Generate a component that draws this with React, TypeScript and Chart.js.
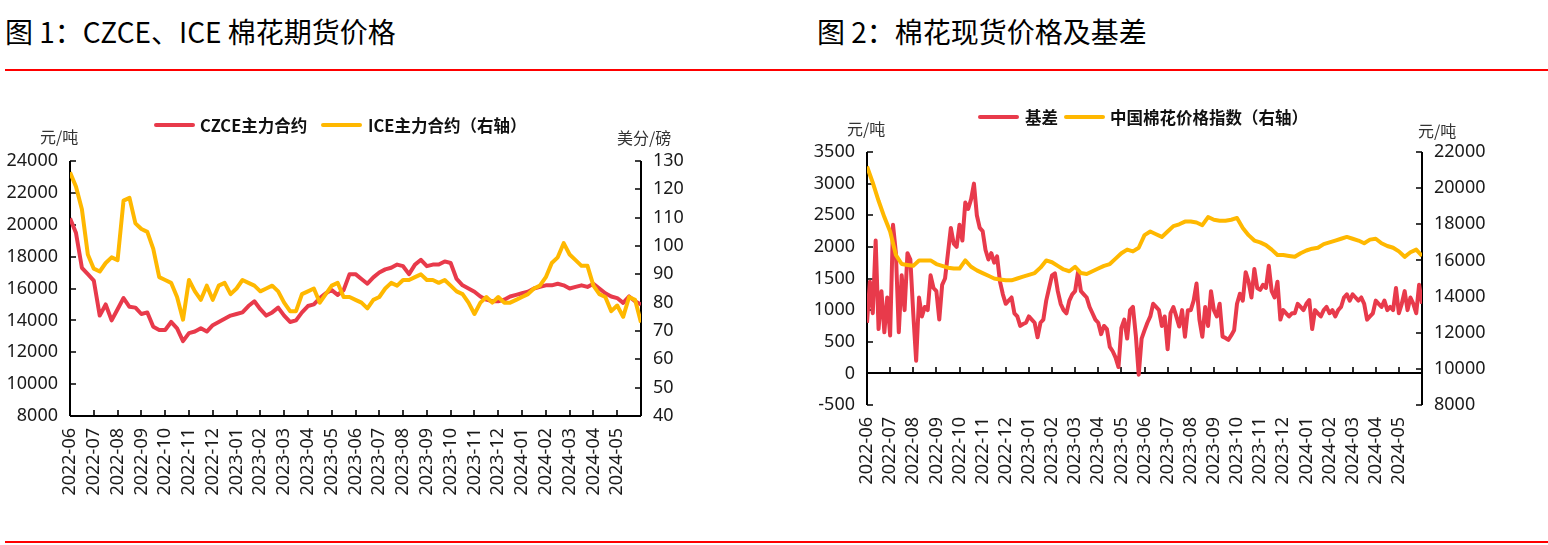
import React, { useEffect, useRef } from 'react';
import { Chart, registerables } from 'chart.js';

Chart.register(...registerables);

// ---------- data ----------
const MONTHS = [
  '2022-06', '2022-07', '2022-08', '2022-09', '2022-10', '2022-11', '2022-12',
  '2023-01', '2023-02', '2023-03', '2023-04', '2023-05', '2023-06', '2023-07',
  '2023-08', '2023-09', '2023-10', '2023-11', '2023-12', '2024-01', '2024-02',
  '2024-03', '2024-04', '2024-05',
];

const PER_MONTH = 4; // samples per month for CZCE / ICE / cotton index
const BASIS_PER_MONTH = 8; // samples per month for basis

// Fig.1 CZCE main contract (元/吨)
const czce = [
  20400, 19500, 17300, 16900, 16500, 14300, 15000, 14000, 14700, 15400, 14850, 14800,
  14400, 14500, 13600, 13400, 13400, 13900, 13500, 12700, 13200, 13300, 13500, 13300,
  13700, 13900, 14100, 14300, 14400, 14500, 14900, 15200, 14700, 14300, 14500, 14800,
  14300, 13900, 14000, 14500, 14900, 15000, 15400, 15700, 15900, 15600, 15900, 16900,
  16900, 16600, 16300, 16700, 17000, 17200, 17300, 17500, 17400, 16900, 17500, 17800,
  17400, 17500, 17500, 17700, 17600, 16600, 16200, 16000, 15800, 15500, 15300, 15200,
  15200, 15300, 15500, 15600, 15700, 15800, 16000, 16100, 16200, 16200, 16300, 16200,
  16000, 16100, 16200, 16100, 16300, 16000, 15700, 15500, 15400, 15100, 15500, 15200,
  15000,
];

// Fig.1 ICE main contract (美分/磅, right axis)
const ice = [
  126, 121, 113, 97, 92, 91, 94, 96, 95, 116, 117, 108,
  106, 105, 99, 89, 88, 87, 82, 74, 88, 84, 81, 86,
  81, 86, 87, 83, 85, 88, 87, 86, 84, 85, 86, 84,
  80, 77, 77, 83, 84, 85, 80, 83, 86, 87, 82, 82,
  81, 80, 78, 81, 82, 85, 87, 86, 88, 88, 89, 90,
  88, 88, 87, 88, 86, 84, 83, 80, 76, 80, 82, 80,
  82, 80, 80, 81, 82, 83, 85, 86, 89, 94, 96, 101,
  97, 95, 93, 93, 86, 83, 82, 77, 79, 75, 82, 81,
  73,
];

// Fig.2 basis (元/吨, left axis)
const basis = [
  800, 1450, 950, 2100, 700, 1300, 650, 1200,
  600, 2350, 1900, 650, 1550, 1000, 1900, 1800,
  950, 200, 1200, 900, 1050, 1000, 1550, 1350,
  1300, 850, 1400, 1500, 1900, 2300, 2050, 2000,
  2350, 2100, 2700, 2600, 2750, 3000, 2500, 2300,
  2250, 1950, 1800, 1900, 1750, 1850, 1450, 1250,
  1100, 1150, 1200, 950, 900, 750, 780, 800,
  900, 850, 800, 570, 800, 850, 1150, 1350,
  1550, 1580, 1300, 1100, 1000, 950, 1150, 1250,
  1300, 1600, 1300, 1250, 1200, 1050, 950, 850,
  800, 620, 750, 700, 420, 350, 250, 100,
  720, 850, 550, 1000, 1050, 600, -20, 550,
  680, 800, 900, 1100, 1050, 1000, 750, 900,
  380, 950, 1050, 900, 740, 1000, 580, 1000,
  1000, 1150, 1420, 850, 580, 1050, 750, 1300,
  1000, 900, 1100, 580, 560, 530, 600, 680,
  1100, 1260, 1150, 1600, 1450, 1200, 1650, 1350,
  1320, 1400, 1350, 1700, 1300, 1200, 1450, 850,
  1000, 950, 900, 950, 950, 1100, 1050, 1000,
  1100, 1160, 700, 1000, 950, 900, 1000, 1050,
  950, 1000, 900, 1000, 1050, 1200, 1250, 1150,
  1250, 1200, 1150, 1200, 1100, 850, 900, 950,
  1150, 1100, 1050, 1150, 1000, 1050, 1000, 1350,
  950, 1100, 1300, 1000, 1200, 1100, 950, 1400,
  1100,
];

// Fig.2 China cotton price index (元/吨, right axis)
const cottonIndex = [
  21200, 20300, 19300, 18400, 17600, 16300, 15800, 15750, 15700, 16000, 16000, 16000,
  15800, 15700, 15600, 15550, 15550, 16000, 15650, 15450, 15300, 15150, 15000, 14950,
  14900, 14900, 15000, 15100, 15200, 15300, 15600, 16000, 15900, 15700, 15500, 15400,
  15650, 15300, 15250, 15400, 15550, 15700, 15800, 16100, 16400, 16600, 16500, 16700,
  17400, 17600, 17450, 17300, 17600, 17900, 18000, 18150, 18150, 18100, 17950, 18400,
  18250, 18200, 18200, 18250, 18350, 17800, 17400, 17100, 17000, 16850, 16600, 16300,
  16300, 16250, 16200, 16400, 16550, 16650, 16700, 16900, 17000, 17100, 17200, 17300,
  17200, 17100, 16950, 17150, 17200, 16950, 16800, 16700, 16500, 16200, 16450, 16600,
  16250,
];

// axis ranges
const FIG1_LEFT = { min: 8000, max: 24000, step: 2000 };
const FIG1_RIGHT = { min: 40, max: 130, step: 10 };
const FIG2_LEFT = { min: -500, max: 3500, step: 500 };
const FIG2_RIGHT = { min: 8000, max: 22000, step: 2000 };

// ---------- styles ----------
const RED = '#E83A4B';
const YELLOW = '#FFB800';
const FONT = '"Noto Sans", "Noto Sans CJK SC", sans-serif';
const CJK = '"Noto Sans CJK SC", "Noto Sans", sans-serif';
const TICK_COLOR = '#1a1a1a';

const innerAxes = {
  id: 'innerAxes',
  beforeDatasetsDraw(chart: any, _args: any, opts: any) {
    const { ctx, chartArea: a, scales } = chart;
    const x = scales.x, y = scales.y, y1 = scales.y1;
    const len = 6;
    const axisY = opts.xAxisAt == null ? a.bottom : Math.round(y.getPixelForValue(opts.xAxisAt));
    ctx.save();
    ctx.strokeStyle = '#000';
    ctx.lineWidth = 2;
    ctx.beginPath();
    ctx.moveTo(a.left, a.top); ctx.lineTo(a.left, a.bottom);
    ctx.moveTo(a.right, a.top); ctx.lineTo(a.right, a.bottom);
    ctx.moveTo(a.left, axisY); ctx.lineTo(a.right, axisY);
    ctx.stroke();
    ctx.lineWidth = 1.6;
    ctx.beginPath();
    y.ticks.forEach((t: any) => {
      const py = Math.round(y.getPixelForValue(t.value));
      ctx.moveTo(a.left, py); ctx.lineTo(a.left + len, py);
    });
    y1.ticks.forEach((t: any) => {
      const py = Math.round(y1.getPixelForValue(t.value));
      ctx.moveTo(a.right, py); ctx.lineTo(a.right - len, py);
    });
    x.ticks.forEach((t: any) => {
      if (t.value <= 0 || t.value >= MONTHS.length) return;
      const px = Math.round(x.getPixelForValue(t.value));
      ctx.moveTo(px, axisY); ctx.lineTo(px, axisY - len);
    });
    ctx.stroke();
    ctx.restore();
  },
};

function yScale(position: 'left' | 'right', range: any, width: number) {
  return {
    type: 'linear',
    position,
    min: range.min,
    max: range.max,
    afterFit: (s: any) => { s.width = width; },
    grid: { display: false, drawTicks: false },
    border: { display: false },
    ticks: {
      stepSize: range.step,
      padding: 12,
      color: TICK_COLOR,
      font: { family: FONT, size: 18 },
      callback: (v: any) => String(v),
    },
  };
}

function xScale(height: number) {
  return {
    type: 'linear',
    min: 0,
    max: MONTHS.length,
    afterFit: (s: any) => { s.height = height; },
    grid: { display: false, drawTicks: false },
    border: { display: false },
    ticks: {
      stepSize: 1,
      autoSkip: false,
      maxRotation: 90,
      minRotation: 90,
      padding: 12,
      color: TICK_COLOR,
      font: { family: FONT, size: 18 },
      callback: (v: any) => MONTHS[v] ?? '',
    },
  };
}

function series(label: string, values: number[], perMonth: number, color: string, axis: string, order: number) {
  return {
    label,
    data: values.map((v, i) => ({ x: i / perMonth, y: v })),
    yAxisID: axis,
    borderColor: color,
    backgroundColor: color,
    borderWidth: 4,
    pointRadius: 0,
    borderJoinStyle: 'round',
    order,
  };
}

function makeConfig(datasets: any[], opts: any) {
  return {
    type: 'line',
    data: { datasets },
    options: {
      animation: false,
      responsive: false,
      devicePixelRatio: 1,
      layout: { padding: { top: opts.top, left: 0, right: 0, bottom: 0 } },
      scales: {
        x: xScale(opts.xHeight),
        y: yScale('left', opts.left, opts.leftWidth),
        y1: yScale('right', opts.right, opts.rightWidth),
      },
      plugins: {
        legend: { display: false },
        tooltip: { enabled: false },
        innerAxes: { xAxisAt: opts.xAxisAt },
      },
    },
    plugins: [innerAxes],
  };
}

function ChartCanvas({ config, left, top, width, height }: any) {
  const ref = useRef<HTMLCanvasElement>(null);
  useEffect(() => {
    const chart = new Chart(ref.current as HTMLCanvasElement, config);
    return () => chart.destroy();
  }, []);
  return (
    <canvas
      ref={ref}
      width={width}
      height={height}
      style={{ position: 'absolute', left, top, width, height }}
    />
  );
}

function Text({ x, y, children, size = 16, bold = false, color = '#333', family = CJK }: any) {
  return (
    <div
      style={{
        position: 'absolute', left: x, top: y - 12, height: 24, lineHeight: '24px',
        fontSize: size, fontWeight: bold ? 700 : 400, color, fontFamily: family, whiteSpace: 'nowrap',
      }}
    >
      {children}
    </div>
  );
}

function Swatch({ x, y, color }: any) {
  return <div style={{ position: 'absolute', left: x, top: y - 2, width: 41, height: 4, background: color, borderRadius: 2 }} />;
}

export default function App() {
  const fig1 = makeConfig(
    [
      series('CZCE主力合约', czce, PER_MONTH, RED, 'y', 1),
      series('ICE主力合约（右轴）', ice, PER_MONTH, YELLOW, 'y1', 0),
    ],
    { top: 81, xHeight: 104, left: FIG1_LEFT, right: FIG1_RIGHT, leftWidth: 70, rightWidth: 59, xAxisAt: null },
  );
  const fig2 = makeConfig(
    [
      series('基差', basis, BASIS_PER_MONTH, RED, 'y', 1),
      series('中国棉花价格指数（右轴）', cottonIndex, PER_MONTH, YELLOW, 'y1', 0),
    ],
    { top: 72, xHeight: 115, left: FIG2_LEFT, right: FIG2_RIGHT, leftWidth: 87, rightWidth: 78, xAxisAt: 0 },
  );

  return (
    <div style={{ position: 'absolute', left: 0, top: 0, width: 1548, height: 545, background: '#fff', overflow: 'hidden' }}>
      <div style={{ position: 'absolute', left: 5, top: 13, fontSize: 28, lineHeight: '36px', fontFamily: CJK, color: '#000', whiteSpace: 'nowrap' }}>
        图 1：CZCE、ICE 棉花期货价格
      </div>
      <div style={{ position: 'absolute', left: 817, top: 13, fontSize: 28, lineHeight: '36px', fontFamily: CJK, color: '#000', whiteSpace: 'nowrap' }}>
        图 2：棉花现货价格及基差
      </div>
      <div style={{ position: 'absolute', left: 5, top: 69, width: 1543, height: 2, background: '#FF0000' }} />
      <div style={{ position: 'absolute', left: 5, top: 541, width: 1543, height: 2, background: '#FF0000' }} />

      <ChartCanvas config={fig1} left={0} top={80} width={700} height={440} />
      <ChartCanvas config={fig2} left={780} top={80} width={720} height={440} />

      {/* Fig.1 legend & units */}
      <Swatch x={154} y={125} color={RED} />
      <Text x={200} y={125} size={16.5} bold color="#111">CZCE主力合约</Text>
      <Swatch x={321} y={125} color={YELLOW} />
      <Text x={368} y={125} size={16.5} bold color="#111">ICE主力合约（右轴）</Text>
      <Text x={40} y={136}>元/吨</Text>
      <Text x={617} y={137}>美分/磅</Text>

      {/* Fig.2 legend & units */}
      <Swatch x={978} y={117} color={RED} />
      <Text x={1025} y={117} size={16.5} bold color="#111">基差</Text>
      <Swatch x={1064} y={117} color={YELLOW} />
      <Text x={1110} y={117} size={16.5} bold color="#111">中国棉花价格指数（右轴）</Text>
      <Text x={847} y={128}>元/吨</Text>
      <Text x={1418} y={130}>元/吨</Text>
    </div>
  );
}
